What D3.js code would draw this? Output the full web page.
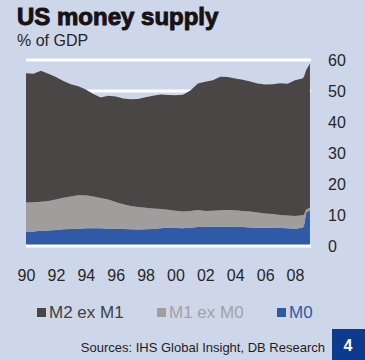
<!DOCTYPE html>
<html><head><meta charset="utf-8">
<script src="https://cdn.jsdelivr.net/npm/d3@7/dist/d3.min.js"></script>
<style>
html,body{margin:0;padding:0;background:#cdd7e9;}
svg{display:block;font-family:"Liberation Sans",Arial,sans-serif;}
</style></head><body>
<svg id="c" width="365" height="360"></svg>
<script>
const dates = [1990,1990.5,1991,1991.5,1992,1992.5,1993,1993.5,1994,1994.5,1995,1995.5,1996,1996.5,1997,1997.5,1998,1998.5,1999,1999.5,2000,2000.5,2001,2001.5,2002,2002.5,2003,2003.5,2004,2004.5,2005,2005.5,2006,2006.5,2007,2007.5,2008,2008.5,2008.6,2008.75,2009];
const m0 =      [4.6,4.7,4.9,5.0,5.2,5.4,5.5,5.6,5.7,5.7,5.7,5.6,5.6,5.5,5.4,5.3,5.4,5.5,5.7,5.9,5.8,5.7,5.9,6.1,6.2,6.2,6.2,6.2,6.2,6.1,6.0,5.9,5.9,5.9,5.8,5.7,5.6,5.9,6.5,10.8,11.6];
const m1exM0 =  [9.4,9.4,9.4,9.5,9.8,10.2,10.5,10.8,10.7,10.3,9.8,9.4,8.6,8.0,7.5,7.3,6.9,6.6,6.2,5.8,5.6,5.4,5.4,5.5,5.1,5.2,5.3,5.4,5.3,5.2,5.1,4.9,4.6,4.4,4.2,4.1,4.1,4.0,3.6,1.0,0.7];
const m2exM1 =  [41.7,41.5,42.2,41.1,39.5,37.6,36.2,35.1,34.1,33.0,32.4,33.5,34.0,34.1,34.4,34.8,35.7,36.4,37.0,37.0,37.2,37.7,38.9,40.8,41.7,42.1,43.1,42.9,42.5,42.3,42.0,41.6,41.6,41.9,42.5,42.5,43.8,44.1,44.5,45.0,46.6];
const seriesNames = ["M0","M1 ex M0","M2 ex M1"];
const legendOrder = ["M2 ex M1","M1 ex M0","M0"];
const xTicks = [1990,1992,1994,1996,1998,2000,2002,2004,2006,2008];
const yTicks = [0,10,20,30,40,50,60];
const colors = {"M0":"#2e5aa8","M1 ex M0":"#a09e9d","M2 ex M1":"#4a4646"};
const legendText = {"M0":"#2e5aa8","M1 ex M0":"#a3a3a3","M2 ex M1":"#404040"};

const svg = d3.select("#c");
const x = d3.scaleLinear().domain([1990, 2009.07]).range([26, 311]);
const y = d3.scaleLinear().domain([0, 60]).range([246, 60]);

const rows = dates.map((d,i)=>({date:d,"M0":m0[i],"M1 ex M0":m1exM0[i],"M2 ex M1":m2exM1[i]}));
const stack = d3.stack().keys(seriesNames)(rows);

// gridlines
const gl = svg.append("g");
yTicks.filter(v=>v===50||v===60).forEach(v=>{
  gl.append("line").attr("x1",26).attr("x2",311).attr("y1",y(v)).attr("y2",y(v))
    .attr("stroke","#fff").attr("stroke-width",3);
});

const area = d3.area().x(d=>x(d.data.date)).y0(d=>y(d[0])).y1(d=>y(d[1])).curve(d3.curveLinear);
svg.append("g").selectAll("path").data(stack).join("path")
  .attr("d",area).attr("fill",d=>colors[d.key]);

// zero line
svg.append("line").attr("x1",26).attr("x2",311).attr("y1",y(0)).attr("y2",y(0))
  .attr("stroke","#fff").attr("stroke-width",3);

// y axis labels (right)
const yAxis = d3.axisRight(y).tickValues(yTicks).tickSize(0).tickPadding(0).tickFormat(d3.format("d"));
const ya = svg.append("g").attr("transform","translate(328,0)").call(yAxis);
ya.select(".domain").remove();
ya.selectAll("text").attr("font-size",16).attr("fill","#262626").attr("font-family","Liberation Sans, Arial, sans-serif");

// x axis labels
const xAxis = d3.axisBottom(x).tickValues(xTicks).tickSize(0).tickPadding(0).tickFormat(d=>String(d).slice(2));
const xa = svg.append("g").attr("transform","translate(0,270)").call(xAxis);
xa.select(".domain").remove();
xa.selectAll("text").attr("font-size",16).attr("fill","#262626").attr("font-family","Liberation Sans, Arial, sans-serif");

// title
svg.append("text").attr("x",17).attr("y",25).text("US money supply")
  .attr("font-size",24).attr("font-weight","bold").attr("fill","#1a1212")
  .attr("stroke","#1a1212").attr("stroke-width",1);
svg.append("text").attr("x",17).attr("y",46).text("% of GDP")
  .attr("font-size",16).attr("fill","#262626");

// legend
const legX = [37,157,277];
const lg = svg.append("g");
legendOrder.forEach((k,i)=>{
  lg.append("rect").attr("x",legX[i]).attr("y",308).attr("width",9).attr("height",9).attr("fill",colors[k]);
  lg.append("text").attr("x",legX[i]+12).attr("y",318).text(k).attr("font-size",17).attr("fill",legendText[k]);
});

// source
svg.append("text").attr("x",325).attr("y",352).attr("text-anchor","end")
  .text("Sources: IHS Global Insight, DB Research").attr("font-size",13).attr("fill","#1e1e1e");
svg.append("rect").attr("x",332).attr("y",329).attr("width",33).attr("height",31).attr("fill","#0b3a8f");
svg.append("text").attr("x",348).attr("y",351).attr("text-anchor","middle").text("4")
  .attr("font-size",16).attr("font-weight","bold").attr("fill","#fff");
</script></body></html>
